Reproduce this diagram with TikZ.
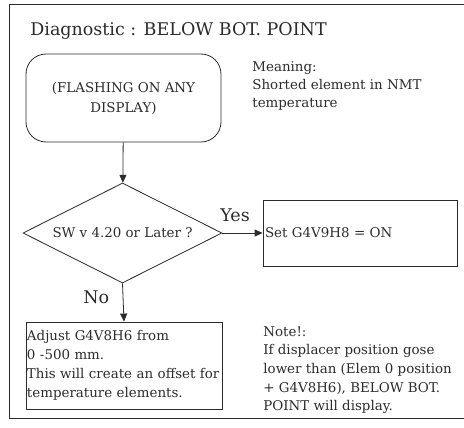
\documentclass[tikz,border=0pt]{standalone}
\usepackage{fontspec}
\setmainfont{DejaVu Serif}
\usetikzlibrary{shapes.geometric,arrows.meta}
\definecolor{ink}{HTML}{2B2B2B}
\begin{document}
\begin{tikzpicture}[x=1pt,y=-1pt,
  line width=0.8pt, draw=ink, text=ink,
  body/.style={font=\fontsize{13.4}{18}\selectfont},
  big/.style={font=\fontsize{17.5}{20}\selectfont},
  box/.style={draw=ink, inner sep=0pt, body},
  arr/.style={draw=ink, -{Triangle[length=8pt,width=7pt]}},
  plain/.style={inner sep=0pt, align=left, anchor=north west}
]
\useasboundingbox (0,0) rectangle (464,428);
\draw[ink] (465,4) -- (9,4) -- (9,418) -- (465,418);
\node[big, inner sep=0pt, anchor=base west] (title) at (30,36) {Diagnostic : BELOW BOT. POINT};
\node[box, rounded corners=20pt, minimum width=195pt, minimum height=88pt, align=center,
      font=\fontsize{13.4}{20}\selectfont] (start) at (123.5,98) {(FLASHING ON ANY\\DISPLAY)};
\node[plain, body] (meaning) at (252,61) {Meaning:\\Shorted element in NMT\\temperature};
\node[box, diamond, aspect=2, minimum width=199pt, minimum height=100pt] (dia) at (122.5,233) {SW v 4.20 or Later ?};
\node[box, minimum width=194pt, minimum height=66pt, text width=190pt, align=left] (set) at (360,233) {Set G4V9H8 = ON};
\node[box, minimum width=196pt, minimum height=87pt, text width=194pt, align=left,
      font=\fontsize{13.4}{19}\selectfont] (adj) at (124,365.5) {Adjust G4V8H6 from\\0 -500 mm.\\This will create an offset for\\temperature elements.};
\node[plain, font=\fontsize{13.4}{18.7}\selectfont] (note) at (263,326) {Note!:\\If displacer position gose\\lower than (Elem 0 position\\+ G4V8H6), BELOW BOT.\\POINT will display.};
\draw[arr] (start) -- (dia);
\draw[arr] (dia.east) -- (set.west);
\node[big, inner sep=0pt, anchor=base west] (yeslbl) at (220,222) {Yes};
\draw[arr] (dia.south) -- (adj.north);
\node[big, inner sep=0pt, anchor=base west] (nolbl) at (83,303) {No};
\end{tikzpicture}
\end{document}
